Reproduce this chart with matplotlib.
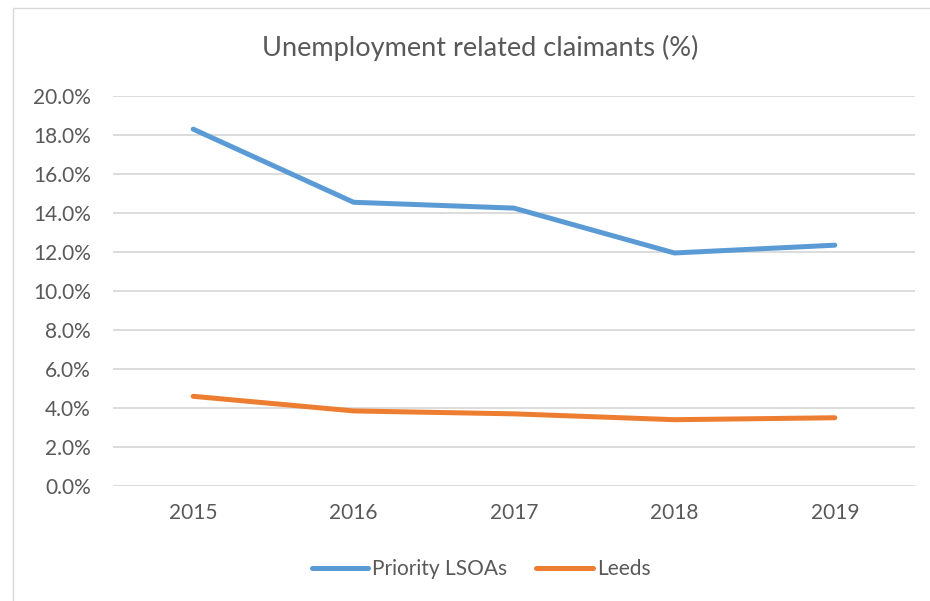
import matplotlib.pyplot as plt
from matplotlib.patches import Rectangle
from matplotlib.ticker import FuncFormatter

years = ["2015", "2016", "2017", "2018", "2019"]
priority_lsoas = [18.3, 14.55, 14.25, 11.95, 12.35]
leeds = [4.6, 3.85, 3.7, 3.4, 3.5]

plt.rcParams["font.family"] = ["Lato", "DejaVu Sans"]
text_color = "#595959"

fig = plt.figure(figsize=(9.3, 6.01), dpi=100)
# chart border (cut off on the right and bottom, as in the source)
fig.patches.append(Rectangle((13 / 930, -0.1), 1.1, 1 - 8 / 601 + 0.1,
                             transform=fig.transFigure, fill=False,
                             edgecolor="#d9d9d9", linewidth=1.0))

ax = fig.add_axes([113 / 930, 115 / 601, 802 / 930, 390 / 601])
x = range(len(years))
ax.plot(x, priority_lsoas, color="#5b9bd5", linewidth=3.6,
        solid_capstyle="round", solid_joinstyle="round", label="Priority LSOAs")
ax.plot(x, leeds, color="#ed7d31", linewidth=3.6,
        solid_capstyle="round", solid_joinstyle="round", label="Leeds")

ax.set_xlim(-0.5, len(years) - 0.5)
ax.set_ylim(0, 20)
ax.set_yticks(range(0, 21, 2))
ax.yaxis.set_major_formatter(FuncFormatter(lambda v, _: f"{v:.1f}%"))
ax.set_xticks(list(x))
ax.set_xticklabels(years)
ax.grid(axis="y", color="#d9d9d9", linewidth=1.3)
ax.set_axisbelow(True)
for s in ax.spines.values():
    s.set_visible(False)
ax.tick_params(length=0, labelsize=15, colors=text_color)
ax.tick_params(axis="y", pad=16)
ax.tick_params(axis="x", pad=12)

fig.text(480 / 930, 1 - 48 / 601, "Unemployment related claimants (%)",
         ha="center", va="center", fontsize=19.5, color=text_color)

leg = fig.legend(loc="center", bbox_to_anchor=(481 / 930, 1 - 569 / 601), ncol=2,
                 frameon=False, fontsize=15, handlelength=2.7,
                 handletextpad=0.2, columnspacing=1.4)
for t in leg.get_texts():
    t.set_color(text_color)

fig.savefig("out.png", dpi=100)
